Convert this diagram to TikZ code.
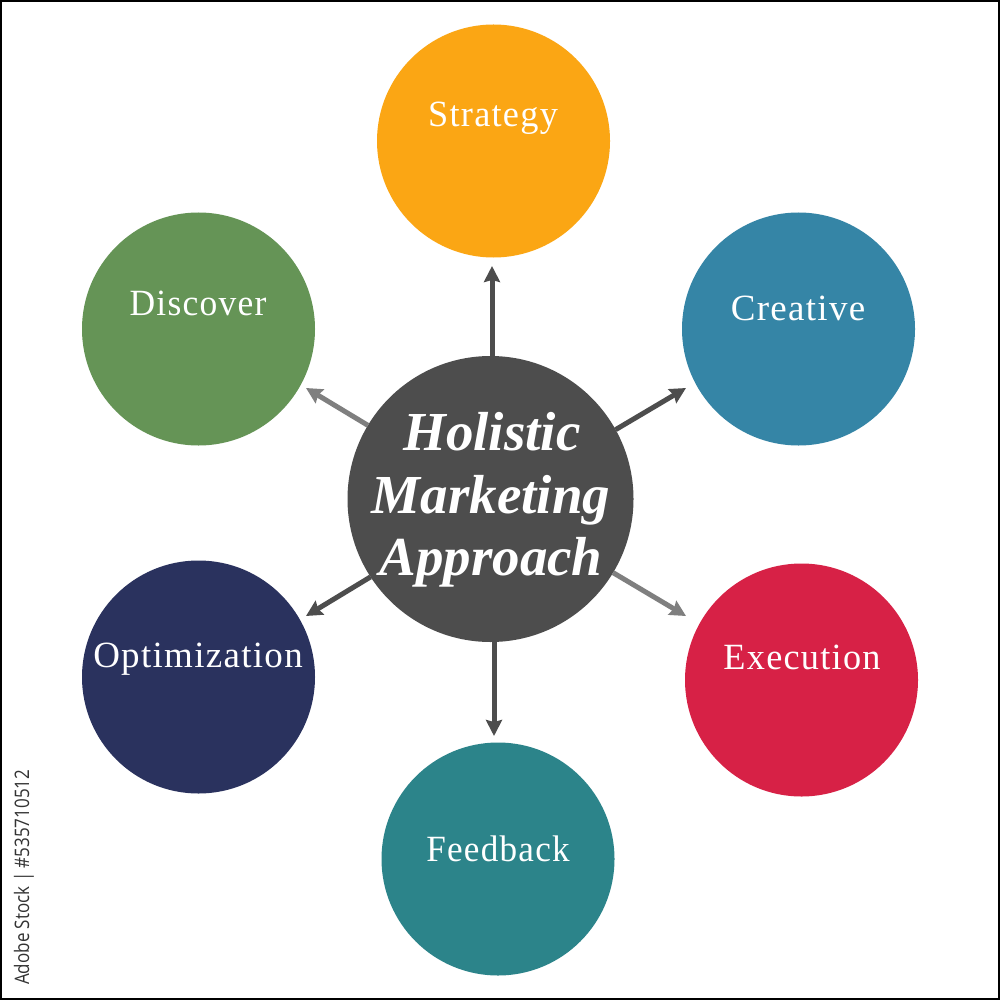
\documentclass[tikz,border=0pt]{standalone}
\usepackage{fontspec}
\usepackage{graphicx}
\setmainfont{Liberation Serif}
\newfontfamily\lblfont[LetterSpace=3.5]{Liberation Serif}
\newfontfamily\stockfont{Open Sans}
\usetikzlibrary{arrows.meta}
\definecolor{cOrange}{HTML}{FBA614}
\definecolor{cBlue}{HTML}{3585A6}
\definecolor{cGreen}{HTML}{659456}
\definecolor{cNavy}{HTML}{2A325E}
\definecolor{cRed}{HTML}{D72146}
\definecolor{cTeal}{HTML}{2C848A}
\definecolor{cHub}{HTML}{4D4D4D}
\definecolor{cLine}{HTML}{7F7F7F}
\tikzset{
  petal/.style={circle,minimum size=233pt,inner sep=0pt,outer sep=0pt},
  hub/.style={circle,fill=cHub,minimum size=286pt,inner sep=0pt,outer sep=0pt},
  lbl/.style={text=white,font=\lblfont\fontsize{37}{37}\selectfont,anchor=base,inner sep=0pt},
  hubtxt/.style={text=white,font=\bfseries\itshape\fontsize{55}{55}\selectfont,anchor=base,inner sep=0pt},
  spoke/.style={line width=5pt,draw=cHub,-{Stealth[length=16pt,width=16pt,inset=2pt]}},
  greyspoke/.style={line width=5pt,draw=cLine,-{Stealth[length=16pt,width=16pt,inset=2pt]}}
}
\begin{document}
\begin{tikzpicture}[x=1pt,y=-1pt]
\useasboundingbox (0,0) rectangle (1000,1000);
\fill[white] (0,0) rectangle (1000,1000);
\draw[black,line width=2pt] (1,1) rectangle (999,999);
\node[petal,fill=cOrange] (strategy) at (493.5,141) {};
\node[petal,fill=cBlue] (creative) at (798.5,329) {};
\node[petal,fill=cGreen] (discover) at (198.5,329) {};
\node[petal,fill=cNavy] (optimization) at (198.5,677) {};
\node[petal,fill=cRed] (execution) at (801.5,680) {};
\node[petal,fill=cTeal] (feedback) at (498,859) {};
\node[hub] (center) at (490.5,499) {};
\coordinate (tipS) at (492,266);
\coordinate (tipC) at (686,388);
\coordinate (tipD) at (306,388);
\coordinate (tipO) at (306,616);
\coordinate (tipE) at (686,616);
\coordinate (tipF) at (494,736);
\draw[spoke] (tipS |- center.north) -- (tipS);
\draw[spoke] (center.29) -- (tipC);
\draw[greyspoke] (center.149) -- (tipD);
\draw[spoke] (center.-147) -- (tipO);
\draw[greyspoke] (center.-31) -- (tipE);
\draw[spoke] (tipF |- center.south) -- (tipF);
\node[lbl] (tstrategy) at (493,127) {\scalebox{0.98}[1]{Strategy}};
\node[lbl] (tcreative) at (798,320) {Creative};
\node[lbl] (tdiscover) at (198,315) {\scalebox{0.96}[1]{Discover}};
\node[lbl] (toptimization) at (198,667) {Optimization};
\node[lbl] (texecution) at (802,669) {\scalebox{0.98}[1]{Execution}};
\node[lbl] (tfeedback) at (498,861) {\scalebox{0.95}[1]{Feedback}};
\node[hubtxt] (h1) at (492,450) {Holistic};
\node[hubtxt] (h2) at (491,513) {Marketing};
\node[hubtxt] (h3) at (491,575) {Approach};
\node[font=\stockfont\fontsize{20}{20}\selectfont,text=black!80,rotate=90,anchor=west,inner sep=0pt] (stock) at (24,985) {\scalebox{0.85}[1]{Adobe Stock | \#535710512}};
\end{tikzpicture}
\end{document}
